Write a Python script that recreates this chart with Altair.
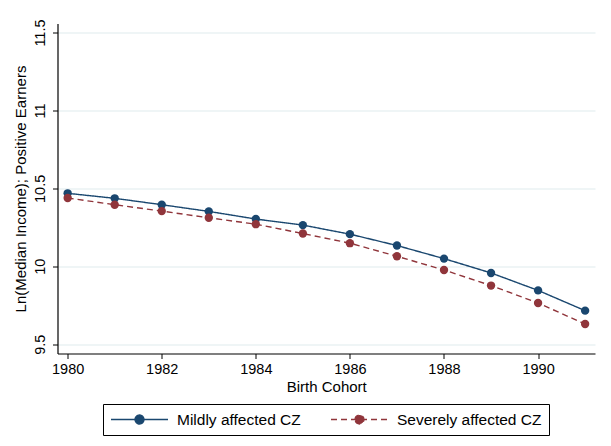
import altair as alt
import pandas as pd

years = list(range(1980, 1992))
mildly = [10.468, 10.436, 10.395, 10.352, 10.303, 10.264, 10.206, 10.133, 10.049, 9.957, 9.845, 9.715]
severely = [10.438, 10.395, 10.354, 10.311, 10.270, 10.210, 10.148, 10.064, 9.976, 9.876, 9.764, 9.629]
series_names = ["Mildly affected CZ", "Severely affected CZ"]
series_colors = ["#1a476f", "#90353b"]
y_ticks = [9.5, 10, 10.5, 11, 11.5]
x_ticks = [1980, 1982, 1984, 1986, 1988, 1990]

rows = []
for y, v in zip(years, mildly):
    rows.append({"year": y, "value": v, "series": series_names[0]})
for y, v in zip(years, severely):
    rows.append({"year": y, "value": v, "series": series_names[1]})
df = pd.DataFrame(rows)

FONT = "Liberation Sans"
# legend glyph: a line segment with a dot in its middle (unit = half of sqrt(symbolSize))
sym_path = "M-3.8,0H3.8M-0.6,0A0.6,0.6,0,1,1,0.6,0A0.6,0.6,0,1,1,-0.6,0Z"

legend = alt.Legend(
    title=None,
    orient="none",
    legendX=45.5,
    legendY=380.5,
    direction="horizontal",
    fillColor="white",
    padding=7,
    columnPadding=27,
    symbolOffset=21,
    labelOffset=29,
    symbolType=sym_path,
    symbolSize=225,
    symbolStrokeWidth=1.3,
    symbolFillColor={"expr": "datum.value === 'Mildly affected CZ' ? '#1a476f' : '#90353b'"},
    labelFont=FONT,
    labelFontSize=15.5,
    labelColor="black",
    labelLimit=300,
)

color_scale = alt.Scale(domain=series_names, range=series_colors)
dash_scale = alt.Scale(domain=series_names, range=[[1, 0], [6, 4]])

base = alt.Chart(df).encode(
    x=alt.X(
        "year:Q",
        scale=alt.Scale(domain=[1979.784, 1991.21], nice=False, zero=False),
        axis=alt.Axis(
            values=x_ticks,
            format="d",
            title="Birth Cohort",
            grid=False,
            labelPadding=4,
            titlePadding=3,
        ),
    ),
    y=alt.Y(
        "value:Q",
        scale=alt.Scale(domain=[9.44, 11.558], nice=False, zero=False),
        axis=alt.Axis(
            values=y_ticks,
            format=".1~f",
            title="Ln(Median Income); Positive Earners",
            grid=True,
            gridColor="#eaf2f3",
            gridWidth=1.3,
            labelAngle=270,
            labelAlign="center",
            labelBaseline="bottom",
            labelPadding=5,
            titlePadding=4,
        ),
    ),
)

lines = base.mark_line(strokeWidth=1.4).encode(
    color=alt.Color("series:N", scale=color_scale, legend=legend),
    strokeDash=alt.StrokeDash("series:N", scale=dash_scale, legend=legend),
)

points = base.mark_point(filled=True, size=70, opacity=1).encode(
    color=alt.Color("series:N", scale=color_scale, legend=legend),
)

chart = (
    alt.layer(lines, points)
    .properties(
        width=537.5,
        height=330,
        autosize=alt.AutoSizeParams(type="none"),
        padding={"left": 49.5, "top": 15.5, "right": 8, "bottom": 84},
        background="white",
    )
    .configure_view(stroke=None)
    .configure_legend(strokeColor="black", strokeWidth=1)
    .configure_axis(
        domainColor="black",
        domainWidth=1.2,
        tickColor="black",
        tickSize=5,
        tickWidth=1,
        labelFont=FONT,
        labelFontSize=14.5,
        labelColor="black",
        titleFont=FONT,
        titleFontSize=15,
        titleFontWeight="normal",
        titleColor="black",
    )
)

chart.save("out.html", embed_options={"renderer": "svg", "actions": False})
